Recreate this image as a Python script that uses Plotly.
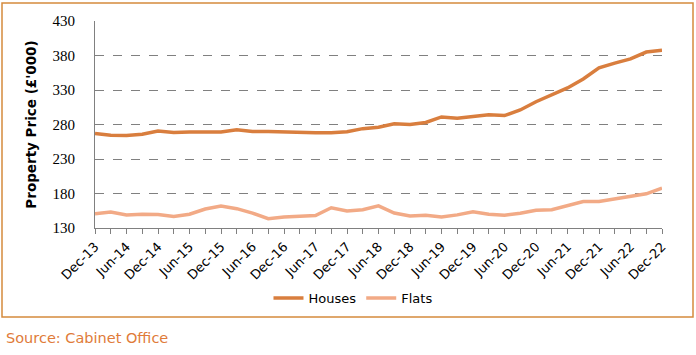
import plotly.graph_objects as go

quarters = ["Dec-13","Mar-14","Jun-14","Sep-14","Dec-14","Mar-15","Jun-15","Sep-15","Dec-15",
            "Mar-16","Jun-16","Sep-16","Dec-16","Mar-17","Jun-17","Sep-17","Dec-17",
            "Mar-18","Jun-18","Sep-18","Dec-18","Mar-19","Jun-19","Sep-19","Dec-19",
            "Mar-20","Jun-20","Sep-20","Dec-20","Mar-21","Jun-21","Sep-21","Dec-21",
            "Mar-22","Jun-22","Sep-22","Dec-22"]
houses = [267, 264.5, 264, 266, 270.5, 268.5, 269, 269, 269, 272.5, 270, 270, 269, 269, 268, 268, 269.5,
          274, 276, 281, 280, 283, 291, 289, 292, 294, 293, 301, 313, 323, 333, 346, 362,
          369, 375, 385, 387.5]
flats = [150.7, 153, 148.8, 150, 149.5, 146.8, 150, 157.5, 161.8, 158, 151.5, 143.4, 146, 147, 148, 159.3, 154.7,
         156.6, 162, 151.7, 147.5, 148.5, 146, 149, 153.6, 150, 148.5, 151.4, 155.7, 156.6, 162.7, 168.5, 168.5,
         172, 175.7, 179.5, 187.8]
y_ticks = [130, 180, 230, 280, 330, 380, 430]

x = list(range(len(quarters)))
ticktext = [q if i % 2 == 0 else "" for i, q in enumerate(quarters)]

fig = go.Figure()
fig.add_trace(go.Scatter(x=x, y=houses, name="Houses", mode="lines",
                         line=dict(color="#D97E3E", width=3.5)))
fig.add_trace(go.Scatter(x=x, y=flats, name="Flats", mode="lines",
                         line=dict(color="#F2AA86", width=3.5)))

fig.update_layout(
    width=696, height=355,
    margin=dict(l=95, r=34, t=21, b=127),
    paper_bgcolor="white", plot_bgcolor="white",
    showlegend=True,
    legend=dict(orientation="h", x=0.455, xanchor="center", y=(228 - 298) / 207, yanchor="middle",
                font=dict(family="DejaVu Sans", size=13, color="#000000"),
                itemwidth=30, tracegroupgap=0),
    xaxis=dict(range=[0, 36], tickmode="array", tickvals=x, ticktext=ticktext,
               tickangle=-45, ticks="outside", ticklen=5, tickcolor="#808080",
               showline=True, linecolor="#808080", linewidth=1,
               showgrid=False, zeroline=False,
               tickfont=dict(family="DejaVu Sans", size=13, color="#000000")),
    yaxis=dict(range=[130, 430], tickmode="array", tickvals=y_ticks,
               showline=True, linecolor="#808080", linewidth=1,
               showgrid=True, gridcolor="#808080", griddash="dash", gridwidth=1,
               zeroline=False, ticks="", ticklabelstandoff=16,
               tickfont=dict(family="Liberation Serif", size=15, color="#000000"),
               title=dict(text="<b>Property Price (£'000)</b>",
                          font=dict(family="DejaVu Sans", size=13.5, color="#000000"),
                          standoff=12)),
    shapes=[dict(type="rect", xref="paper", yref="paper",
                 x0=(2 - 95) / 567, x1=(693 - 95) / 567,
                 y0=(228 - 317) / 207, y1=(228 - 3) / 207,
                 line=dict(color="#D58A3D", width=1.5), fillcolor="rgba(0,0,0,0)", layer="below")],
    annotations=[dict(text="Source: Cabinet Office", xref="paper", yref="paper",
                      x=(4 - 95) / 567, xanchor="left", y=(228 - 338) / 207, yanchor="middle",
                      showarrow=False,
                      font=dict(family="DejaVu Sans", size=14.5, color="#E07B39"))],
)

fig.write_html("out.html", config={"displayModeBar": False},
               post_script="document.body.style.margin='0';")
